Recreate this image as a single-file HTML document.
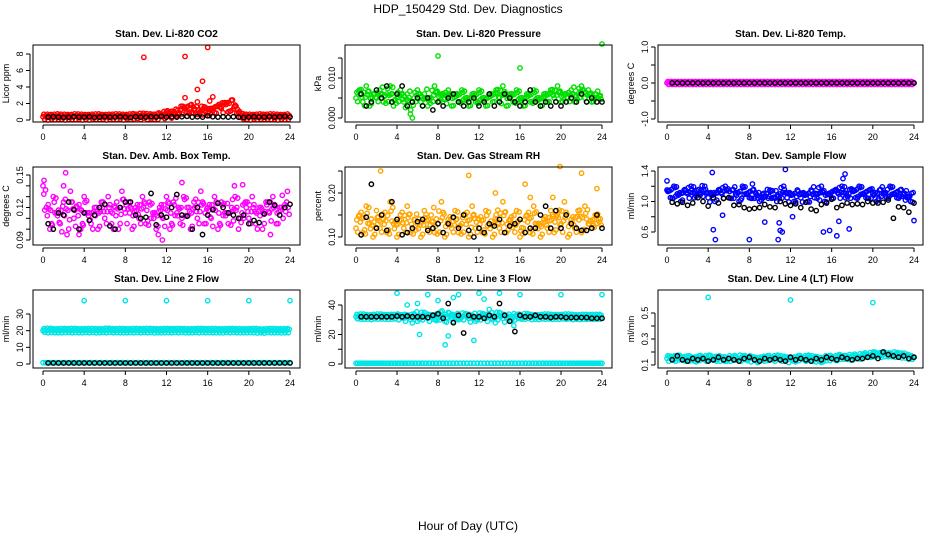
<!DOCTYPE html>
<html><head><meta charset="utf-8"><style>
html,body{margin:0;padding:0;background:#fff;}
svg{display:block;font-family:"Liberation Sans",Arial,sans-serif;}
</style></head><body>
<svg id="chart" width="936" height="540" viewBox="0 0 936 540">
<text x="468" y="13" text-anchor="middle" font-size="12">HDP_150429  Std. Dev. Diagnostics</text>
<text x="468" y="530" text-anchor="middle" font-size="12">Hour of Day (UTC)</text>
</svg>
<script>
const hourTicks = [0,4,8,12,16,20,24];
const co2Main = [0.4,0.35,0.4,0.3,0.45,0.4,0.35,0.4,0.3,0.4,0.45,0.35,0.4,0.3,0.4,0.35,0.45,0.4,0.3,0.4,0.35,0.4,0.45,0.35,0.4,0.3,0.5,0.4,0.35,0.6,0.4,0.5,0.35,0.4,0.45,0.4,1.0,0.6,0.8,0.5,1.2,1.5,0.9,1.8,1.3,0.7,1.1,1.6,0.8,1.2,0.9,1.7,1.4,2.1,1.0,2.4,1.8,0.9,0.5,0.4,0.35,0.4,0.3,0.45,0.4,0.35,0.4,0.45,0.35,0.4,0.3,0.4];
const co2Black = [0.35,0.4,0.35,0.3,0.35,0.4,0.35,0.35,0.4,0.3,0.35,0.4,0.35,0.35,0.4,0.35,0.3,0.4,0.35,0.35,0.4,0.35,0.45,0.35,0.4,0.35,0.4,0.45,0.35,0.4,0.35,0.5,0.4,0.35,0.4,0.35,0.4,0.35,0.3,0.35,0.4,0.35,0.35,0.4,0.35,0.4,0.45,0.35];
const co2Out = [[9.8,7.6],[13.8,7.7],[16,8.8],[15.5,4.7],[15,3.7],[13.8,2.7],[16.5,2.8],[15,2.2],[16.2,2.3],[17,1.7],[18.3,2.4]];
const presMain = [0.005,0.007,0.004,0.008,0.003,0.006,0.005,0.007,0.004,0.006,0.008,0.003,0.005,0.007,0.004,0.006,0.002,0.005,0.007,0.004,0.006,0.003,0.005,0.008,0.004,0.006,0.005,0.007,0.003,0.006,0.004,0.007,0.005,0.003,0.006,0.004,0.007,0.005,0.003,0.006,0.004,0.007,0.005,0.008,0.003,0.006,0.004,0.007,0.005,0.003,0.006,0.004,0.007,0.005,0.003,0.006,0.004,0.007,0.005,0.008,0.004,0.006,0.005,0.007,0.004,0.006,0.008,0.005,0.007,0.004,0.006,0.005];
const presBlack = [0.006,0.003,0.004,0.007,0.005,0.008,0.004,0.006,0.008,0.003,0.004,0.005,0.003,0.005,0.002,0.004,0.003,0.005,0.006,0.004,0.003,0.004,0.005,0.003,0.004,0.006,0.003,0.004,0.006,0.005,0.004,0.003,0.004,0.007,0.004,0.003,0.004,0.003,0.004,0.003,0.004,0.005,0.004,0.006,0.004,0.005,0.004,0.004];
const presOut = [[8,0.0155],[16,0.0125],[24,0.0185],[5.5,0.0],[5.3,0.001]];
const tempMain = [0,0,0,0,0,0,0,0,0,0,0,0,0,0,0,0,0,0,0,0,0,0,0,0,0,0,0,0,0,0,0,0,0,0,0,0,0,0,0,0,0,0,0,0,0,0,0,0,0,0,0,0,0,0,0,0,0,0,0,0,0,0,0,0,0,0,0,0,0,0,0,0];
const tempBlack = [0,0,0,0,0,0,0,0,0,0,0,0,0,0,0,0,0,0,0,0,0,0,0,0,0,0,0,0,0,0,0,0,0,0,0,0,0,0,0,0,0,0,0,0,0,0,0,0];
const ambMain = [0.14,0.12,0.10,0.13,0.115,0.105,0.125,0.095,0.135,0.11,0.12,0.10,0.13,0.115,0.105,0.12,0.10,0.125,0.11,0.13,0.105,0.12,0.10,0.135,0.115,0.125,0.10,0.12,0.11,0.13,0.105,0.125,0.115,0.10,0.12,0.11,0.13,0.10,0.125,0.115,0.105,0.13,0.12,0.10,0.125,0.11,0.135,0.105,0.12,0.11,0.13,0.10,0.125,0.115,0.105,0.12,0.13,0.10,0.115,0.125,0.11,0.13,0.105,0.12,0.10,0.125,0.115,0.13,0.105,0.12,0.11,0.125];
const ambBlack = [0.105,0.10,0.115,0.113,0.125,0.118,0.10,0.115,0.108,0.113,0.12,0.123,0.103,0.10,0.12,0.125,0.125,0.113,0.11,0.111,0.133,0.104,0.113,0.111,0.12,0.132,0.113,0.112,0.1,0.12,0.095,0.113,0.118,0.124,0.12,0.115,0.113,0.11,0.113,0.105,0.108,0.106,0.114,0.125,0.122,0.113,0.12,0.123];
const ambOut = [[0.1,0.145],[2.2,0.152],[2,0.14],[13.5,0.143],[11.6,0.09],[11.2,0.095],[22.1,0.095],[3.5,0.095],[18.6,0.14],[19.4,0.141]];
const rhMain = [0.12,0.15,0.11,0.17,0.13,0.10,0.16,0.12,0.14,0.11,0.18,0.13,0.10,0.15,0.12,0.17,0.11,0.14,0.13,0.10,0.16,0.12,0.15,0.11,0.13,0.18,0.10,0.14,0.12,0.16,0.11,0.13,0.15,0.10,0.17,0.12,0.14,0.11,0.16,0.13,0.10,0.15,0.12,0.18,0.11,0.14,0.13,0.16,0.10,0.12,0.15,0.11,0.17,0.13,0.10,0.14,0.12,0.16,0.11,0.15,0.13,0.18,0.10,0.14,0.12,0.16,0.11,0.17,0.13,0.12,0.15,0.14];
const rhBlack = [0.105,0.145,0.22,0.12,0.15,0.115,0.18,0.14,0.105,0.11,0.12,0.135,0.14,0.115,0.12,0.13,0.11,0.13,0.145,0.12,0.15,0.115,0.10,0.12,0.11,0.13,0.125,0.14,0.11,0.125,0.13,0.14,0.11,0.12,0.12,0.15,0.17,0.12,0.16,0.12,0.15,0.13,0.12,0.115,0.115,0.12,0.15,0.12];
const rhOut = [[2.4,0.25],[11,0.24],[16.5,0.22],[19.9,0.26],[22,0.245],[17,0.19],[13.6,0.2],[23.5,0.21],[19.2,0.19]];
const flowMain = [1.15,1.05,1.2,1.1,1.0,1.15,1.1,1.2,1.05,1.1,1.15,1.2,1.05,1.1,1.0,1.15,1.1,1.2,1.05,1.15,1.1,1.0,1.2,1.1,1.05,1.15,1.1,1.0,1.05,1.1,1.15,1.05,1.0,1.1,1.2,1.05,1.1,1.0,1.15,1.05,1.1,1.0,1.15,1.05,1.1,1.2,1.0,1.1,1.05,1.15,1.1,1.2,1.05,1.1,1.15,1.05,1.2,1.1,1.05,1.15,1.1,1.0,1.15,1.1,1.05,1.2,1.1,1.05,1.15,1.1,1.05,1.0];
const flowBlack = [0.99,0.97,0.99,0.95,0.98,1.05,1.0,0.94,1.05,0.98,1.04,1.05,0.95,0.96,0.92,0.9,0.91,0.92,0.96,0.93,0.92,1.0,0.97,0.95,0.97,0.92,0.99,0.9,0.88,0.96,0.98,1.03,0.92,0.95,0.98,0.96,0.97,0.96,1.0,0.98,0.98,0.99,1.02,0.78,0.93,0.92,0.86,0.98];
const flowOut = [[4.4,1.38],[4.5,0.63],[4.7,0.5],[5.4,0.82],[8,0.5],[8.3,1.23],[9.5,0.73],[10.8,0.5],[11,0.62],[11.2,0.6],[11.5,1.42],[10.9,0.72],[12.2,0.8],[15.2,0.6],[15.8,0.62],[16.5,0.55],[16.7,0.74],[17.3,1.36],[17.7,0.64],[17.1,1.3],[24,0.75],[0,1.27]];
const l2Main = [20,20,20.5,20,19.8,20,20.2,20,20,20.3,20,19.9,20,20,20.2,20,20,19.8,20,20.4,20,20,20,20.1,20,19.9,20,20.2,20,20,20,20.3,20,20,19.8,20,20.1,20,20,20,20.2,20,20,19.9,20,20,20.3,20,20,20,20.1,20,19.8,20,20,20.2,20,20,20,19.9,20,20,20.1,20,19.5,20,20,20.2,20,19.8,20,20];
const l2Low = [0.8,0.8,0.8,0.8,0.8,0.8,0.8,0.8,0.8,0.8,0.8,0.8,0.8,0.8,0.8,0.8,0.8,0.8,0.8,0.8,0.8,0.8,0.8,0.8,0.8,0.8,0.8,0.8,0.8,0.8,0.8,0.8,0.8,0.8,0.8,0.8,0.8,0.8,0.8,0.8,0.8,0.8,0.8,0.8,0.8,0.8,0.8,0.8];
const l2Black = [0.6,0.6,0.6,0.6,0.6,0.6,0.6,0.6,0.6,0.6,0.6,0.6,0.6,0.6,0.6,0.6,0.6,0.6,0.6,0.6,0.6,0.6,0.6,0.6,0.6,0.6,0.6,0.6,0.6,0.6,0.6,0.6,0.6,0.6,0.6,0.6,0.6,0.6,0.6,0.6,0.6,0.6,0.6,0.6,0.6,0.6,0.6,0.6];
const l2Out = [[4,38],[8,38],[12,38],[16,38],[20,38],[24,38]];
const l3Main = [32,32,32.5,32,31.5,32,32,32.5,32,31.8,32,32,32,32.5,31,33,30,34,29,32,35,31,33,30,34,32,29,35,31,33,30,32,34,31,33,29,32,34,31,33,30,32,35,31,33,29,32,33,31,32,33,32,32,31.5,32,32,32.5,32,32,31.8,32,32,32.5,32,32,31.5,32,32,32,31.8,32,32];
const l3Low = [0.5,0.5,0.5,0.5,0.5,0.5,0.5,0.5,0.5,0.5,0.5,0.5,0.5,0.5,0.5,0.5,0.5,0.5,0.5,0.5,0.5,0.5,0.5,0.5,0.5,0.5,0.5,0.5,0.5,0.5,0.5,0.5,0.5,0.5,0.5,0.5,0.5,0.5,0.5,0.5,0.5,0.5,0.5,0.5,0.5,0.5,0.5,0.5,0.5,0.5,0.5,0.5,0.5,0.5,0.5,0.5,0.5,0.5,0.5,0.5,0.5,0.5,0.5,0.5,0.5,0.5,0.5,0.5,0.5,0.5,0.5,0.5];
const l3Black = [32,32,32,32,32,32,32,32.5,32,32.5,32,32,32,31.5,33,34,31,41,28,33,21,33,32,32,31,33,32,41,33,29,22,33,32,32,33,32,32,31.5,32,32,31.5,31.5,31.5,31.5,31.5,31,31,31];
const l3Out = [[4,48],[5,40],[6,41],[6.2,20],[7,47],[8,43],[8.4,36],[9,19],[8.7,13],[9.5,45],[10,47],[11.5,16],[12.5,44],[12,48],[13,37],[13.6,28],[14,48],[15.4,26],[16,47],[20,47],[24,47]];
const l4Main = [0.15,0.16,0.14,0.17,0.15,0.14,0.16,0.15,0.13,0.16,0.15,0.14,0.17,0.15,0.14,0.16,0.15,0.13,0.15,0.16,0.14,0.15,0.17,0.14,0.15,0.16,0.13,0.15,0.14,0.16,0.15,0.14,0.17,0.15,0.16,0.14,0.15,0.13,0.16,0.15,0.14,0.17,0.15,0.16,0.14,0.12,0.15,0.16,0.15,0.14,0.17,0.16,0.15,0.16,0.17,0.15,0.16,0.18,0.16,0.17,0.19,0.18,0.17,0.19,0.18,0.17,0.18,0.19,0.17,0.18,0.17,0.16];
const l4Black = [0.14,0.17,0.14,0.13,0.15,0.14,0.15,0.13,0.14,0.16,0.14,0.15,0.14,0.13,0.15,0.16,0.14,0.13,0.15,0.14,0.15,0.14,0.13,0.16,0.14,0.15,0.14,0.13,0.15,0.14,0.16,0.15,0.14,0.16,0.15,0.14,0.15,0.15,0.16,0.17,0.15,0.2,0.18,0.17,0.16,0.17,0.15,0.16];
const l4Out = [[4,0.62],[12,0.6],[20,0.58]];

const svg = document.getElementById('chart');
const NS = 'http://www.w3.org/2000/svg';
function mk(tag, attrs, parent){const e=document.createElementNS(NS,tag);for(const k in attrs)e.setAttribute(k,attrs[k]);(parent||svg).appendChild(e);return e;}

const cols = [{x0:33,x1:300,h0:43,h24:290},{x0:345,x1:612,h0:356,h24:602},{x0:658,x1:923,h0:667,h24:914}];
const rows = [{y0:45,y1:122,lab:137},{y0:167,y1:245,lab:260},{y0:290,y1:368,lab:383}];
const panels = [
 {name:'co2',title:'Stan. Dev. Li-820 CO2',ylab:'Licor ppm',r:0,c:0,va:0,pa:120,vb:8,pb:54,ticks:[0,2,4,6,8],labels:['0','2','4','6','8'],col:'#ff0000',main:co2Main,black:co2Black,out:co2Out},
 {name:'pressure',title:'Stan. Dev. Li-820 Pressure',ylab:'kPa',r:0,c:1,va:0,pa:118,vb:0.01,pb:78,ticks:[0,0.005,0.01,0.015],labels:['0.000','','0.010',''],col:'#00e000',main:presMain,black:presBlack,out:presOut},
 {name:'temp',title:'Stan. Dev. Li-820 Temp.',ylab:'degrees C',r:0,c:2,va:0,pa:83,vb:1,pb:47,ticks:[-1,-0.5,0,0.5,1],labels:['-1.0','','0.0','','1.0'],col:'#ff00ff',main:tempMain,black:tempBlack,out:[]},
 {name:'ambbox',title:'Stan. Dev. Amb. Box Temp.',ylab:'degrees C',r:1,c:0,va:0.09,pa:240,vb:0.15,pb:175,ticks:[0.09,0.1,0.11,0.12,0.13,0.14,0.15],labels:['0.09','','','0.12','','','0.15'],col:'#ff00ff',main:ambMain,black:ambBlack,out:ambOut},
 {name:'rh',title:'Stan. Dev. Gas Stream RH',ylab:'percent',r:1,c:1,va:0.1,pa:237,vb:0.2,pb:193,ticks:[0.1,0.15,0.2,0.25],labels:['0.10','','0.20',''],col:'#ffa500',main:rhMain,black:rhBlack,out:rhOut},
 {name:'sampleflow',title:'Stan. Dev. Sample Flow',ylab:'ml/min',r:1,c:2,va:0.6,pa:232,vb:1.4,pb:171,ticks:[0.6,0.8,1.0,1.2,1.4],labels:['0.6','','1.0','','1.4'],col:'#0000ff',main:flowMain,black:flowBlack,out:flowOut},
 {name:'line2',title:'Stan. Dev. Line 2 Flow',ylab:'ml/min',r:2,c:0,va:0,pa:364,vb:30,pb:314,ticks:[0,10,20,30],labels:['0','10','20','30'],col:'#00e5e5',main:l2Main,low:l2Low,black:l2Black,out:l2Out},
 {name:'line3',title:'Stan. Dev. Line 3 Flow',ylab:'ml/min',r:2,c:1,va:0,pa:364,vb:40,pb:305,ticks:[0,10,20,30,40],labels:['0','','20','','40'],col:'#00e5e5',main:l3Main,low:l3Low,black:l3Black,out:l3Out},
 {name:'line4',title:'Stan. Dev. Line 4 (LT) Flow',ylab:'ml/min',r:2,c:2,va:0.1,pa:365,vb:0.5,pb:313,ticks:[0.1,0.2,0.3,0.4,0.5],labels:['0.1','','0.3','','0.5'],col:'#00e5e5',main:l4Main,black:l4Black,out:l4Out}
];

const jitter = [0, 0.04, -0.04, 0.02];

panels.forEach(p=>{
  const C=cols[p.c], R=rows[p.r];
  const g=mk('g',{});
  
  
  const xs=h=>C.h0+(C.h24-C.h0)*h/24;
  const ys=v=>p.pa+(p.pb-p.pa)*(v-p.va)/(p.vb-p.va);
  const t=mk('text',{x:(C.x0+C.x1)/2,y:R.y0-8,'text-anchor':'middle','font-size':'10','font-weight':'bold'},g);
  t.textContent=p.title;
  
  
  const yl=mk('text',{transform:`translate(${C.x0-24},${(R.y0+R.y1)/2}) rotate(-90)`,'text-anchor':'middle','font-size':'9'},g);
  yl.textContent=p.ylab;
  
  
  const pts=mk('g',{fill:'none','stroke-width':'1.4'},g);
  
  
  const dot=(h,v,col)=>{const y=ys(v);if(y<R.y0-3||y>R.y1+3)return;const d=mk('circle',{cx:xs(h),cy:y,r:2.2,stroke:col},pts);};
  if(p.low) p.low.forEach((v,i)=>{dot(i*24/(p.low.length-1),v,p.col);dot((i+0.5)*24/(p.low.length),v,p.col);});
  const n=p.main.length, span=(p.vb-p.va);
  p.main.forEach((v,i)=>{
    for(let k=0;k<4;k++){
      const h=(i+k*0.25)*24/n;
      const nv=p.main[(i+k)%n];
      dot(Math.min(24,h), k===0?v:(v+nv)/2+span*jitter[k], p.col);
    }
  });
  p.out.forEach(o=>dot(o[0],o[1],p.col));
  p.black.forEach((v,i)=>dot(0.5+i*23.5/(p.black.length-1),v,'#000'));
  const b=mk('rect',{x:C.x0,y:R.y0,width:C.x1-C.x0,height:R.y1-R.y0,fill:'none',stroke:'#000','stroke-width':'1'},g);
  
  
  const xa=mk('g',{},g);
  
  
  mk('line',{x1:xs(0),x2:xs(24),y1:R.y1+3,y2:R.y1+3,stroke:'#000'},xa);
  hourTicks.forEach(h=>{
    mk('line',{x1:xs(h),x2:xs(h),y1:R.y1+3,y2:R.y1+7,stroke:'#000'},xa);
    const tl=mk('text',{x:xs(h),y:R.lab+3,'text-anchor':'middle','font-size':'9'},xa);
    tl.textContent=h;
    
    
  });
  const ya=mk('g',{},g);
  
  
  const yt=p.ticks.map(ys);
  mk('line',{x1:C.x0-3,x2:C.x0-3,y1:Math.min(...yt),y2:Math.max(...yt),stroke:'#000'},ya);
  p.ticks.forEach((v,i)=>{
    const y=ys(v);
    mk('line',{x1:C.x0-7,x2:C.x0-3,y1:y,y2:y,stroke:'#000'},ya);
    if(p.labels[i]){
      const tl=mk('text',{transform:`translate(${C.x0-10},${y}) rotate(-90)`,'text-anchor':'middle','font-size':'9'},ya);
      tl.textContent=p.labels[i];
      
      
    }
  });
});
</script>
</body></html>
